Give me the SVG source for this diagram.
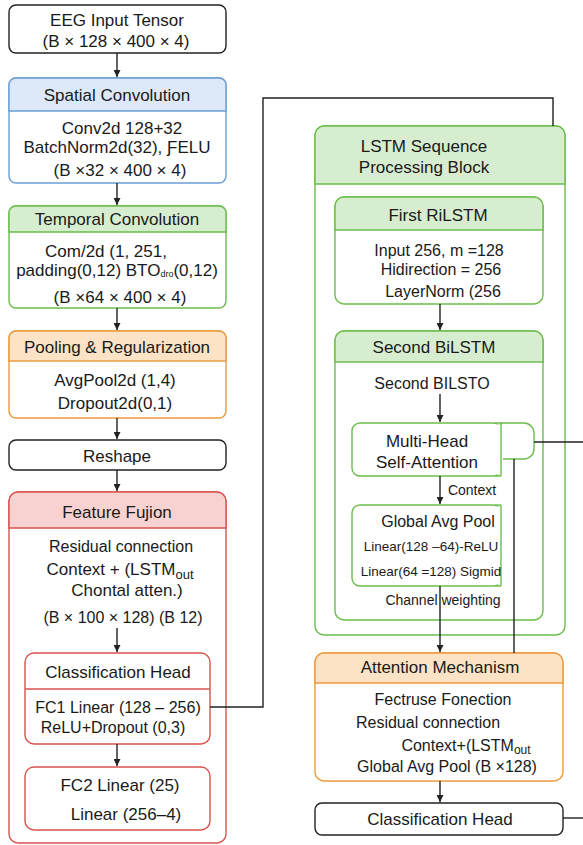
<svg xmlns="http://www.w3.org/2000/svg" width="583" height="845" viewBox="0 0 583 845">
<defs>
<marker id="ah" viewBox="0 0 10 10" refX="10" refY="5" markerWidth="7" markerHeight="7" orient="auto" markerUnits="userSpaceOnUse"><path d="M0,0 L10,5 L0,10 z" fill="#222"/></marker>
<style>
text{font-family:"Liberation Sans","Noto Sans",Arial,sans-serif;font-size:17px;fill:#1a1a1a;text-anchor:middle;dominant-baseline:central}
.b16{font-size:16px}
.sm{font-size:13.5px}
.bk{fill:#fff;stroke:#222;stroke-width:1.4}
.blue{stroke:#6a9fd3;stroke-width:1.4}
.green{stroke:#6cbd4c;stroke-width:1.4}
.orange{stroke:#ec9a3c;stroke-width:1.4}
.red{stroke:#d9534f;stroke-width:1.4}
.bh{fill:#dde9f8}.gh{fill:#d7edd0}.oh{fill:#fde3c5}.rh{fill:#f8d2d0}
.w{fill:#fff}
.c{fill:none;stroke:#222;stroke-width:1.4}
</style>
</defs>

<g id="eeg-input">
<rect class="bk" x="9" y="5" width="217" height="48" rx="7"/>
<text x="117" y="20">EEG Input Tensor</text>
<text x="116" y="41">(B × 128 × 400 × 4)</text>
</g>

<g id="spatial-conv">
<rect class="w blue" x="9" y="78" width="217" height="105" rx="7"/>
<path class="bh blue" d="M9,111 V85 a7,7 0 0 1 7,-7 H219 a7,7 0 0 1 7,7 V111 z"/>
<text x="117" y="95">Spatial Convolution</text>
<text x="122" y="128">Conv2d 128+32</text>
<text x="117" y="147">BatchNorm2d(32), ƑELU</text>
<text x="120" y="170">(B ×32 × 400 × 4)</text>
</g>

<g id="temporal-conv">
<rect class="w green" x="9" y="206" width="217" height="102" rx="7"/>
<path class="gh green" d="M9,232 V213 a7,7 0 0 1 7,-7 H219 a7,7 0 0 1 7,7 V232 z"/>
<text x="117" y="219">Temporal Convolution</text>
<text x="106" y="251">Com/2d (1, 251,</text>
<text x="117" y="270">padding(0,12) BTO<tspan font-size="9" dy="4">dro</tspan><tspan dy="-4">(0,12)</tspan></text>
<text x="120" y="297">(B ×64 × 400 × 4)</text>
</g>

<g id="pooling">
<rect class="w orange" x="9" y="331" width="217" height="87" rx="7"/>
<path class="oh orange" d="M9,361 V338 a7,7 0 0 1 7,-7 H219 a7,7 0 0 1 7,7 V361 z"/>
<text x="117" y="347">Pooling &amp; Regularization</text>
<text x="115" y="380">AvgPool2d (1,4)</text>
<text x="115" y="403">Dropout2d(0,1)</text>
</g>

<g id="reshape">
<rect class="bk" x="9" y="440" width="217" height="30" rx="7"/>
<text x="117" y="456">Reshape</text>
</g>

<g id="feature-fusion">
<rect class="w red" x="9" y="492" width="217" height="351" rx="9"/>
<path class="rh red" d="M9,528 V501 a9,9 0 0 1 9,-9 H217 a9,9 0 0 1 9,9 V528 z"/>
<text x="117" y="512">Feature Fujion</text>
<text x="121" y="546" class="b16">Residual connection</text>
<text x="120" y="569">Context + (LSTM<tspan font-size="13" dy="5">out</tspan></text>
<text x="127" y="590">Chontal atten.)</text>
<text x="123" y="617" class="b16">(B × 100 × 128) (B 12)</text>
</g>

<g id="classification-head-left">
<rect class="w red" x="25" y="653" width="185" height="91" rx="9"/>
<line class="red" x1="25" y1="689" x2="210" y2="689"/>
<text x="118" y="672">Classification Head</text>
<text x="118" y="707" class="b16">FC1 Linear (128 – 256)</text>
<text x="113" y="727" class="b16">ReLU+Dropout (0,3)</text>
</g>

<g id="fc2">
<rect class="w red" x="25" y="767" width="185" height="63" rx="9"/>
<text x="120" y="785">FC2 Linear (25)</text>
<text x="126" y="814">Linear (256–4)</text>
</g>

<g id="lstm-block">
<rect class="w green" x="315" y="126" width="250" height="509" rx="9"/>
<path class="gh green" d="M315,184 V135 a9,9 0 0 1 9,-9 H556 a9,9 0 0 1 9,9 V184 z"/>
<text x="424" y="146">LSTM Sequence</text>
<text x="424" y="167">Processing Block</text>
</g>

<g id="first-bilstm">
<rect class="w green" x="335" y="197" width="208" height="107" rx="9"/>
<path class="gh green" d="M335,230 V206 a9,9 0 0 1 9,-9 H534 a9,9 0 0 1 9,9 V230 z"/>
<text x="438" y="215">First RiLSTM</text>
<text x="439" y="250" class="b16">Input 256, m =128</text>
<text x="441" y="269" class="b16">Hidirection = 256</text>
<text x="443" y="291" class="b16">LayerNorm (256</text>
</g>

<g id="second-bilstm">
<rect class="w green" x="335" y="331" width="208" height="289" rx="9"/>
<path class="gh green" d="M335,362 V340 a9,9 0 0 1 9,-9 H534 a9,9 0 0 1 9,9 V362 z"/>
<text x="434" y="347">Second BiLSTM</text>
<text x="432" y="383" class="b16">Second BILSTO</text>
<text x="443" y="600" style="font-size:14px">Channel weighting</text>
</g>

<g id="multi-head">
<path class="w green" d="M501,423 H524 a10,10 0 0 1 10,10 V449 a10,10 0 0 1 -10,10 H501 z"/>
<rect class="w green" x="352" y="423" width="149" height="53" rx="8"/>
<rect x="495" y="424.5" width="8" height="50" fill="#fff"/>
<line class="green" x1="501" y1="423" x2="501" y2="476"/>
<path class="green" fill="none" d="M495,423 H501 M495,476 H501"/>
<text x="427" y="441">Multi-Head</text>
<text x="427" y="462">Self-Attention</text>
<text x="472" y="490" style="font-size:14px">Context</text>
</g>

<g id="global-avg-pool">
<rect class="w green" x="352" y="505" width="149" height="81" rx="8"/>
<rect x="495" y="506.5" width="8" height="78" fill="#fff"/>
<line class="green" x1="501" y1="505" x2="501" y2="586"/>
<path class="green" fill="none" d="M495,505 H501 M495,586 H501"/>
<text x="438" y="521" class="b16">Global Avg Pool</text>
<text x="431" y="546" class="sm">Linear(128 –64)-ReLU</text>
<text x="431" y="571" class="sm">Linear(64 =128) Sigmid</text>
</g>

<g id="attention-mechanism">
<rect class="w orange" x="315" y="653" width="248" height="128" rx="9"/>
<path class="oh orange" d="M315,683 V662 a9,9 0 0 1 9,-9 H554 a9,9 0 0 1 9,9 V683 z"/>
<text x="440" y="667">Attention Mechanism</text>
<text x="443" y="699" class="b16">Fectruse Fonection</text>
<text x="428" y="722" class="b16">Residual connection</text>
<text x="466" y="745" class="b16">Context+(LSTM<tspan font-size="12" dy="5">out</tspan></text>
<text x="447" y="766" class="b16">Global Avg Pool (B ×128)</text>
</g>

<g id="classification-head-right">
<rect class="bk" x="315" y="803" width="248" height="32" rx="7"/>
<text x="440" y="819">Classification Head</text>
</g>

<g id="connectors">
<line class="c" x1="117" y1="53" x2="117" y2="77" marker-end="url(#ah)"/>
<line class="c" x1="117" y1="183" x2="117" y2="205" marker-end="url(#ah)"/>
<line class="c" x1="117" y1="308" x2="117" y2="330" marker-end="url(#ah)"/>
<line class="c" x1="117" y1="418" x2="117" y2="439" marker-end="url(#ah)"/>
<line class="c" x1="117" y1="470" x2="117" y2="491" marker-end="url(#ah)"/>
<line class="c" x1="117" y1="628" x2="117" y2="652" marker-end="url(#ah)"/>
<line class="c" x1="117" y1="744" x2="117" y2="766" marker-end="url(#ah)"/>
<polyline class="c" points="210,707 263,707 263,98 553,98 553,126"/>
<line class="c" x1="440" y1="304" x2="440" y2="330" marker-end="url(#ah)"/>
<line class="c" x1="440" y1="394" x2="440" y2="422" marker-end="url(#ah)"/>
<line class="c" x1="440" y1="476" x2="440" y2="504" marker-end="url(#ah)"/>
<line class="c" x1="440" y1="586" x2="440" y2="652" marker-end="url(#ah)"/>
<line class="c" x1="514" y1="459" x2="514" y2="653"/>
<line class="c" x1="534" y1="442" x2="583" y2="442"/>
<line class="c" x1="440" y1="781" x2="440" y2="802" marker-end="url(#ah)"/>
<line class="c" x1="563" y1="818" x2="583" y2="818"/>
</g>
</svg>
